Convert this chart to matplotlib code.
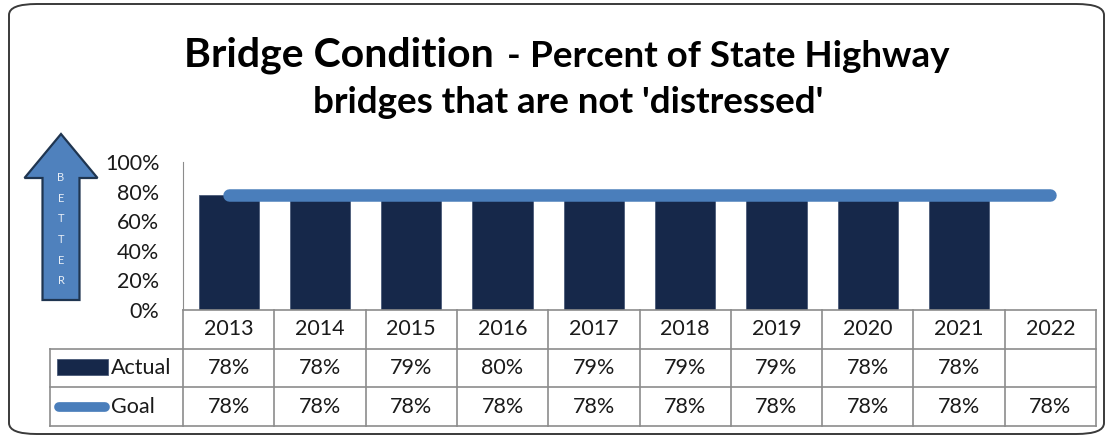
import matplotlib.pyplot as plt
from matplotlib.patches import FancyBboxPatch, FancyArrow
import numpy as np

years = ['2013', '2014', '2015', '2016', '2017', '2018', '2019', '2020', '2021', '2022']
actual = [78, 78, 79, 80, 79, 79, 79, 78, 78, None]
goal = [78, 78, 78, 78, 78, 78, 78, 78, 78, 78]
yticks = [0, 20, 40, 60, 80, 100]

FONT = 'Lato'
BAR_COLOR = '#16284a'
GOAL_COLOR = '#4a7ebb'
GRID = '#8c8c8c'
TXT = '#1a1a1a'

W, H = 1112, 438
fig = plt.figure(figsize=(W / 100, H / 100), dpi=100)
fig.patch.set_facecolor('white')


def px(x0, y0, x1, y1):
    # pixel box (top-left origin) -> figure fraction rect
    return [x0 / W, 1 - y1 / H, (x1 - x0) / W, (y1 - y0) / H]


# rounded frame around everything
frame = FancyBboxPatch((9 / W, 4 / H), 1095 / W, 430 / H,
                       boxstyle='round,pad=0,rounding_size=0.025',
                       transform=fig.transFigure, facecolor='none',
                       edgecolor='#3a3a3a', linewidth=1.4)
fig.patches.append(frame)

# title
fig.text(184 / W, 1 - 67 / H, 'Bridge Condition', ha='left', va='baseline',
         fontsize=29.5, fontweight='bold', family=FONT)
fig.text(507 / W, 1 - 67 / H, '-', ha='left', va='baseline',
         fontsize=26.5, fontweight='bold', family=FONT)
fig.text(530 / W, 1 - 67 / H, 'Percent of State Highway', ha='left', va='baseline',
         fontsize=26.5, fontweight='bold', family=FONT)
fig.text(568 / W, 1 - 113 / H, "bridges that are not 'distressed'", ha='center',
         va='baseline', fontsize=26.5, fontweight='bold', family=FONT)

# chart area
n = len(years)
x = np.arange(n)
ax = fig.add_axes(px(183, 162, 1096, 310))
vals = [v if v is not None else 0 for v in actual]
ax.bar(x, vals, width=0.66, color=BAR_COLOR, edgecolor='#4a5a78', linewidth=0.6, zorder=2)
ax.plot(x, goal, color=GOAL_COLOR, linewidth=9, solid_capstyle='round', zorder=3)
ax.set_xlim(-0.5, n - 0.5)
ax.set_ylim(0, 100)
ax.set_yticks(yticks)
ax.set_yticklabels([f'{t}%' for t in yticks], fontsize=15.5, family=FONT, color=TXT)
ax.tick_params(axis='y', length=0, pad=17)
ax.set_xticks([])
for s in ['top', 'right', 'bottom']:
    ax.spines[s].set_visible(False)
ax.spines['left'].set_color(GRID)

# data table below the chart, sharing the category positions
label_w = (183 - 50) / 91.3
tx = fig.add_axes(px(50, 310, 1096, 426))
tx.set_xlim(-0.5 - label_w, n - 0.5)
tx.set_ylim(0, 3)
tx.axis('off')
edges = np.arange(n + 1) - 0.5
lw = 1.2
tx.plot([-0.5, n - 0.5], [3, 3], color=GRID, lw=lw, clip_on=False)
for yl in [0, 1, 2]:
    tx.plot([-0.5 - label_w, n - 0.5], [yl, yl], color=GRID, lw=lw, clip_on=False)
for e in edges:
    tx.plot([e, e], [0, 3], color=GRID, lw=lw, clip_on=False)
tx.plot([-0.5 - label_w] * 2, [0, 2], color=GRID, lw=lw, clip_on=False)

cell_font = dict(fontsize=15.5, family=FONT, ha='center', va='center', color=TXT)
for i, yr in enumerate(years):
    tx.text(i, 2.5, yr, **cell_font)
    if actual[i] is not None:
        tx.text(i, 1.5, f'{actual[i]}%', **cell_font)
    tx.text(i, 0.5, f'{goal[i]}%', **cell_font)

# legend keys inside the row labels
x0 = -0.5 - label_w
tx.bar(x0 + 0.077, 0.40, width=0.56, bottom=1.32, align='edge', color=BAR_COLOR,
       edgecolor='#4a5a78', linewidth=0.6)
tx.plot([x0 + 0.10, x0 + 0.60], [0.5, 0.5], color=GOAL_COLOR,
        lw=7, solid_capstyle='round')
tx.text(x0 + 0.67, 1.5, 'Actual', fontsize=15.5, family=FONT, va='center',
        ha='left', color=TXT)
tx.text(x0 + 0.67, 0.5, 'Goal', fontsize=15.5, family=FONT, va='center',
        ha='left', color=TXT)

# "better" arrow on the left
fig.patches.append(FancyArrow(61 / W, 1 - 300 / H, 0, 166 / H, width=37 / W,
                              head_width=73 / W, head_length=44 / H,
                              length_includes_head=True, transform=fig.transFigure,
                              facecolor='#4f81bd', edgecolor='#1f3550', linewidth=1.6))
for k, ch in enumerate('BETTER'):
    fig.text(61 / W, 1 - (178 + k * 20.5) / H, ch, ha='center', va='center',
             fontsize=8, color='#e8eef6', family=FONT)

fig.savefig('out.png', dpi=100, facecolor='white')
